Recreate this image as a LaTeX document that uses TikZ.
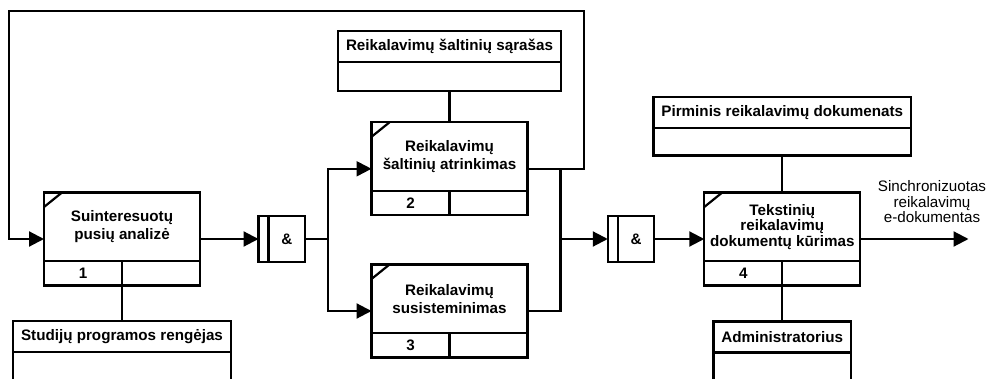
\documentclass[tikz,border=0pt]{standalone}
\usepackage{fontspec}
\setmainfont{Liberation Sans}
\usetikzlibrary{arrows.meta,positioning,fit}

\begin{document}
\begin{tikzpicture}[
  x=1pt, y=1pt,
  line width=2.2pt,
  proc/.style={rectangle, draw, outer sep=0pt, minimum width=156pt, minimum height=93pt,
    path picture={
      \draw ([yshift=24.5pt]path picture bounding box.south west) -- ([yshift=24.5pt]path picture bounding box.south east);
      \draw (path picture bounding box.south) -- ([yshift=24.5pt]path picture bounding box.south);
      \draw ([yshift=-14.5pt]path picture bounding box.north west) -- ([xshift=18pt]path picture bounding box.north west);
    }},
  ptext/.style={align=center, inner sep=0pt, font=\bfseries\fontsize{15.2}{18}\selectfont},
  ptight/.style={ptext, font=\bfseries\fontsize{15.2}{15.5}\selectfont},
  pnum/.style={inner sep=0pt, font=\bfseries\fontsize{15.2}{17}\selectfont},
  junction/.style={rectangle, draw, outer sep=0pt, minimum size=46.5pt, inner sep=0pt,
    font=\bfseries\fontsize{15.2}{17}\selectfont,
    path picture={\draw ([xshift=10pt]path picture bounding box.south west) -- ([xshift=10pt]path picture bounding box.north west);}},
  res/.style={rectangle, draw, outer sep=0pt, minimum height=31pt, inner xsep=8pt,
    font=\bfseries\fontsize{15.2}{17}\selectfont},
  resbody/.style={rectangle, draw, outer sep=0pt, inner sep=0pt},
  arrow/.style={-{Triangle[length=15pt,width=15pt]}},
  outlabel/.style={align=center, inner sep=0pt, font=\fontsize{15.2}{15.5}\selectfont}
]
\useasboundingbox (0,0) rectangle (989,378);
\clip (0,0) rectangle (989,378);

% activities
\node[proc] (p1) at (122,139) {};
\node[ptext] (p1t) at ([yshift=12.25pt]p1.center) {Suinteresuotų\\pusių analizė};
\node[pnum] (p1n) at ([xshift=-39pt,yshift=12.25pt]p1.south) {1};

\node[proc] (p2) at (449.5,209.2) {};
\node[ptext] (p2t) at ([yshift=12.25pt]p2.center) {Reikalavimų\\šaltinių atrinkimas};
\node[pnum] (p2n) at ([xshift=-39pt,yshift=12.25pt]p2.south) {2};

\node[proc] (p3) at (449.5,67) {};
\node[ptext] (p3t) at ([yshift=12.25pt]p3.center) {Reikalavimų\\susisteminimas};
\node[pnum] (p3n) at ([xshift=-39pt,yshift=12.25pt]p3.south) {3};

\node[junction, right=58.5pt of p1] (j1) {\hspace*{10pt}\&};
\node[junction] (j2) at (631,139) {\hspace*{10pt}\&};

\node[proc, right=50pt of j2] (p4) {};
\node[ptight] (p4t) at ([yshift=12.25pt]p4.center) {Tekstinių\\reikalavimų\\dokumentų kūrimas};
\node[pnum] (p4n) at ([xshift=-39pt,yshift=12.25pt]p4.south) {4};

% controls and mechanisms
\node[res, above=60pt of p2] (src) {Reikalavimų šaltinių sąrašas};
\node[resbody, fit={(src.south west) ([yshift=-28.5pt]src.south east)}] (srcb) {};
\node[res, above=64.4pt of p4] (doc) {Pirminis reikalavimų dokumenats};
\node[resbody, fit={(doc.south west) ([yshift=-27.5pt]doc.south east)}] (docb) {};
\node[res, below=35.5pt of p1] (dev) {Studijų programos rengėjas};
\node[resbody, fit={(dev.south west) ([yshift=-40pt]dev.south east)}] (devb) {};
\node[res, below=36pt of p4] (adm) {Administratorius};
\node[resbody, fit={(adm.south west) ([yshift=-40pt]adm.south east)}] (admb) {};

\draw (srcb) -- (p2);
\draw (docb) -- (p4);
\draw (p1) -- (dev);
\draw (p4) -- (adm);

% flows
\coordinate (s1) at (328,139);
\coordinate (m1) at (560.5,139);
\coordinate (lr) at (583.7,367);
\coordinate (ll) at (9.3,367);
\coordinate (out) at (968.5,139);

\draw[arrow] (p1) -- (j1);
\draw (j1) -- (s1);
\draw[arrow] (s1) |- (p2);
\draw[arrow] (s1) |- (p3);
\draw (p2) -| (m1);
\draw (p3) -| (m1);
\draw[arrow] (m1) -- (j2);
\draw[arrow] (j2) -- (p4);
\draw[arrow] (p2) -| (lr) -- (ll) |- (p1);
\draw[arrow] (p4) -- (out);

\node[outlabel] (outtxt) at (932,176) {Sinchronizuotas\\reikalavimų\\e-dokumentas};

\end{tikzpicture}
\end{document}
